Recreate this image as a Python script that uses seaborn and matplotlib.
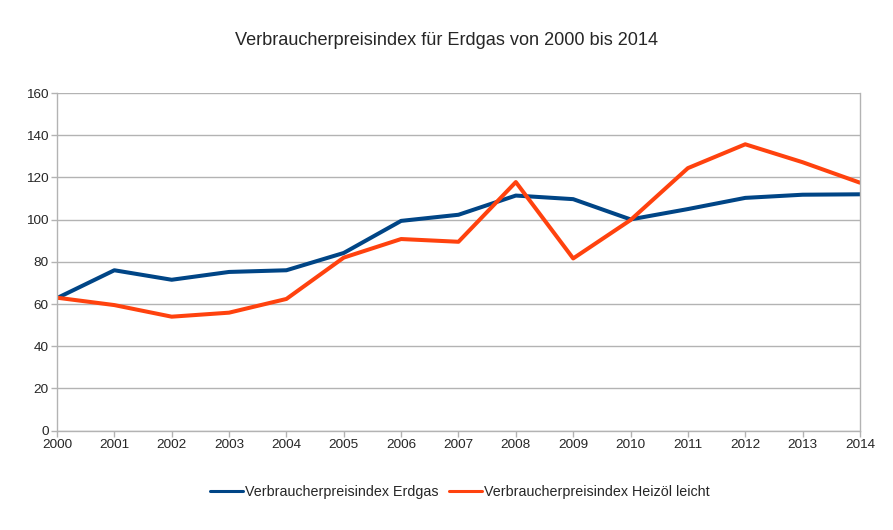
import pandas as pd
import matplotlib.pyplot as plt
import seaborn as sns

years = list(range(2000, 2015))
erdgas = [62.8, 76.0, 71.5, 75.2, 76.0, 84.2, 99.4, 102.3, 111.4, 109.7, 100.1, 105.0, 110.3, 111.8, 112.0]
heizoel = [63.0, 59.5, 54.0, 55.9, 62.4, 82.0, 90.8, 89.5, 117.8, 81.6, 99.8, 124.4, 135.7, 127.2, 117.5]
labels = ["Verbraucherpreisindex Erdgas", "Verbraucherpreisindex Heizöl leicht"]
colors = ["#004586", "#ff420e"]

df = pd.DataFrame({"Jahr": years, labels[0]: erdgas, labels[1]: heizoel})
df_long = df.melt(id_vars="Jahr", var_name="Reihe", value_name="Index")

sns.set_style("white")
plt.rcParams["font.family"] = ["Liberation Sans", "DejaVu Sans"]

fig = plt.figure(figsize=(8.93, 5.3), dpi=100)
ax = fig.add_axes([0.0638, 0.1875, 0.8992, 0.637])

sns.lineplot(data=df_long, x="Jahr", y="Index", hue="Reihe", palette=colors,
             linewidth=2.9, ax=ax, legend=True)

ax.set_xlim(2000, 2014)
ax.set_ylim(0, 160)
ax.set_xticks(years)
ax.set_yticks(range(0, 161, 20))
ax.set_xlabel("")
ax.set_ylabel("")
ax.grid(axis="y", color="#b3b3b3", linewidth=1)
ax.set_axisbelow(True)
for side in ["left", "right", "bottom"]:
    ax.spines[side].set_color("#b3b3b3")
    ax.spines[side].set_linewidth(1)
ax.spines["top"].set_visible(False)
ax.tick_params(axis="both", direction="out", length=4, width=1, color="#b3b3b3",
               labelsize=9.7, pad=2, left=True, bottom=True)

fig.suptitle("Verbraucherpreisindex für Erdgas von 2000 bis 2014", y=0.94, fontsize=13.1)

handles, lbls = ax.get_legend_handles_labels()
leg = ax.legend(handles, lbls, loc="center", bbox_to_anchor=(0.515, 0.072),
                bbox_transform=fig.transFigure, ncol=2, frameon=False, fontsize=10.3,
                handlelength=2.3, handletextpad=0.15, columnspacing=0.7)
for line in leg.get_lines():
    line.set_linewidth(2.2)

plt.savefig("out.png", dpi=100)
